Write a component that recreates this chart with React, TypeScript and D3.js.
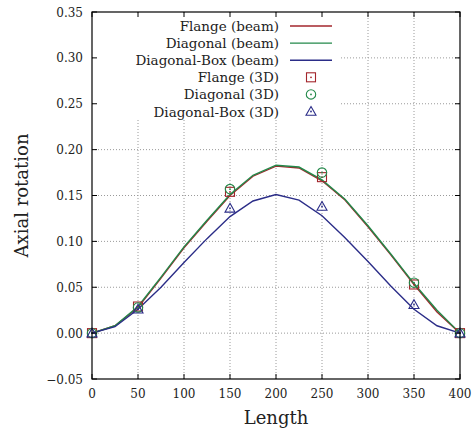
import React from 'react';
import * as d3 from 'd3';

// beam results, sampled every 25 along the length
const beamX = [0, 25, 50, 75, 100, 125, 150, 175, 200, 225, 250, 275, 300, 325, 350, 375, 400];
const flangeBeam = [0, 0.008, 0.028, 0.06, 0.093, 0.122, 0.15, 0.171, 0.182, 0.18, 0.166, 0.145, 0.116, 0.085, 0.053, 0.023, 0];
const diagonalBeam = [0, 0.008, 0.029, 0.061, 0.094, 0.123, 0.151, 0.172, 0.183, 0.181, 0.167, 0.146, 0.117, 0.086, 0.054, 0.025, 0];
const boxBeam = [0, 0.007, 0.026, 0.05, 0.077, 0.103, 0.127, 0.144, 0.151, 0.145, 0.128, 0.104, 0.078, 0.051, 0.026, 0.008, 0];

// 3D results
const solidX = [0, 50, 150, 250, 350, 400];
const flange3D = [0, 0.029, 0.154, 0.17, 0.053, 0];
const diagonal3D = [0, 0.028, 0.157, 0.175, 0.055, 0];
const box3D = [0, 0.026, 0.136, 0.138, 0.031, 0];

const xTicks = [0, 50, 100, 150, 200, 250, 300, 350, 400];
const yTicks = [-0.05, 0, 0.05, 0.1, 0.15, 0.2, 0.25, 0.3, 0.35];

const RED = '#a3262c';
const GREEN = '#23894a';
const BLUE = '#2b2d88';
const FONT = "'DejaVu Serif', 'Times New Roman', Times, serif";

const W = 472;
const H = 437;
const margin = { left: 92, right: 12, top: 12, bottom: 58 };

const Marker = ({ kind, x, y, color }: { kind: string; x: number; y: number; color: string }) => {
  const dot = <circle cx={x} cy={y} r={0.9} fill={color} />;
  if (kind === 'square')
    return (
      <g>
        <rect x={x - 4.5} y={y - 4.5} width={9} height={9} fill="none" stroke={color} strokeWidth={1.1} />
        {dot}
      </g>
    );
  if (kind === 'circle')
    return (
      <g>
        <circle cx={x} cy={y} r={4.7} fill="none" stroke={color} strokeWidth={1.1} />
        {dot}
      </g>
    );
  return (
    <g>
      <path d={`M${x},${y - 5}L${x + 5},${y + 3.8}L${x - 5},${y + 3.8}Z`} fill="none" stroke={color} strokeWidth={1.1} />
      {dot}
    </g>
  );
};

export default function App() {
  const x = d3.scaleLinear().domain([0, 400]).range([margin.left, W - margin.right]);
  const y = d3.scaleLinear().domain([-0.05, 0.35]).range([H - margin.bottom, margin.top]);

  const line = d3
    .line<number>()
    .x((_, i) => x(beamX[i]))
    .y((d) => y(d));

  const beams = [
    { name: 'Flange (beam)', values: flangeBeam, color: RED },
    { name: 'Diagonal (beam)', values: diagonalBeam, color: GREEN },
    { name: 'Diagonal-Box (beam)', values: boxBeam, color: BLUE },
  ];
  const solids = [
    { name: 'Flange (3D)', values: flange3D, color: RED, kind: 'square' },
    { name: 'Diagonal (3D)', values: diagonal3D, color: GREEN, kind: 'circle' },
    { name: 'Diagonal-Box (3D)', values: box3D, color: BLUE, kind: 'triangle' },
  ];

  const [x0, x1] = x.range();
  const [y0, y1] = y.range();
  const legendTextX = 279;
  const legendRowY = (i: number) => 26 + i * 17.1;

  return (
    <svg width={W} height={H} style={{ position: 'absolute', left: 0, top: 0, background: '#fff', fontFamily: FONT }}>
      {/* grid */}
      <g stroke="#9a9a9a" strokeWidth={1} strokeDasharray="1,2">
        {xTicks.slice(1, -1).map((t) => (
          <line key={t} x1={x(t)} x2={x(t)} y1={y0} y2={y1} />
        ))}
        {yTicks.slice(1, -1).map((t) => (
          <line key={t} x1={x0} x2={x1} y1={y(t)} y2={y(t)} />
        ))}
      </g>
      {/* legend backdrop */}
      <rect x={x0 + 1} y={y1 + 1} width={246} height={105} fill="#fff" />

      {/* beam curves */}
      {beams.map((b) => (
        <path key={b.name} d={line(b.values) ?? ''} fill="none" stroke={b.color} strokeWidth={1.4} />
      ))}
      {/* 3D points */}
      {solids.map((s) =>
        s.values.map((v, i) => <Marker key={s.name + i} kind={s.kind} x={x(solidX[i])} y={y(v)} color={s.color} />)
      )}

      {/* frame and ticks */}
      <rect x={x0} y={y1} width={x1 - x0} height={y0 - y1} fill="none" stroke="#000" strokeWidth={1.2} />
      <g stroke="#000" strokeWidth={1}>
        {xTicks.map((t) => (
          <g key={t}>
            <line x1={x(t)} x2={x(t)} y1={y0} y2={y0 - 5} />
            <line x1={x(t)} x2={x(t)} y1={y1} y2={y1 + 5} />
          </g>
        ))}
        {yTicks.map((t) => (
          <g key={t}>
            <line x1={x0} x2={x0 + 5} y1={y(t)} y2={y(t)} />
            <line x1={x1} x2={x1 - 5} y1={y(t)} y2={y(t)} />
          </g>
        ))}
      </g>

      {/* tick labels */}
      <g fontSize={12} fill="#222">
        {xTicks.map((t) => (
          <text key={t} x={x(t)} y={y0 + 19} textAnchor="middle">
            {t}
          </text>
        ))}
        {yTicks.map((t) => (
          <text key={t} x={x0 - 9} y={y(t) + 4.5} textAnchor="end">
            {d3.format('.2f')(t)}
          </text>
        ))}
      </g>

      {/* axis titles */}
      <text x={(x0 + x1) / 2} y={H - 13} textAnchor="middle" fontSize={18} fill="#222">
        Length
      </text>
      <text transform={`translate(28,${(y0 + y1) / 2}) rotate(-90)`} textAnchor="middle" fontSize={18} fill="#222">
        Axial rotation
      </text>

      {/* legend */}
      <g fontSize={13.5} fill="#222">
        {beams.map((b, i) => (
          <g key={b.name}>
            <text x={legendTextX} y={legendRowY(i) + 5} textAnchor="end">
              {b.name}
            </text>
            <line x1={290} x2={332} y1={legendRowY(i)} y2={legendRowY(i)} stroke={b.color} strokeWidth={1.4} />
          </g>
        ))}
        {solids.map((s, i) => (
          <g key={s.name}>
            <text x={legendTextX} y={legendRowY(i + 3) + 5} textAnchor="end">
              {s.name}
            </text>
            <Marker kind={s.kind} x={311} y={legendRowY(i + 3)} color={s.color} />
          </g>
        ))}
      </g>
    </svg>
  );
}
